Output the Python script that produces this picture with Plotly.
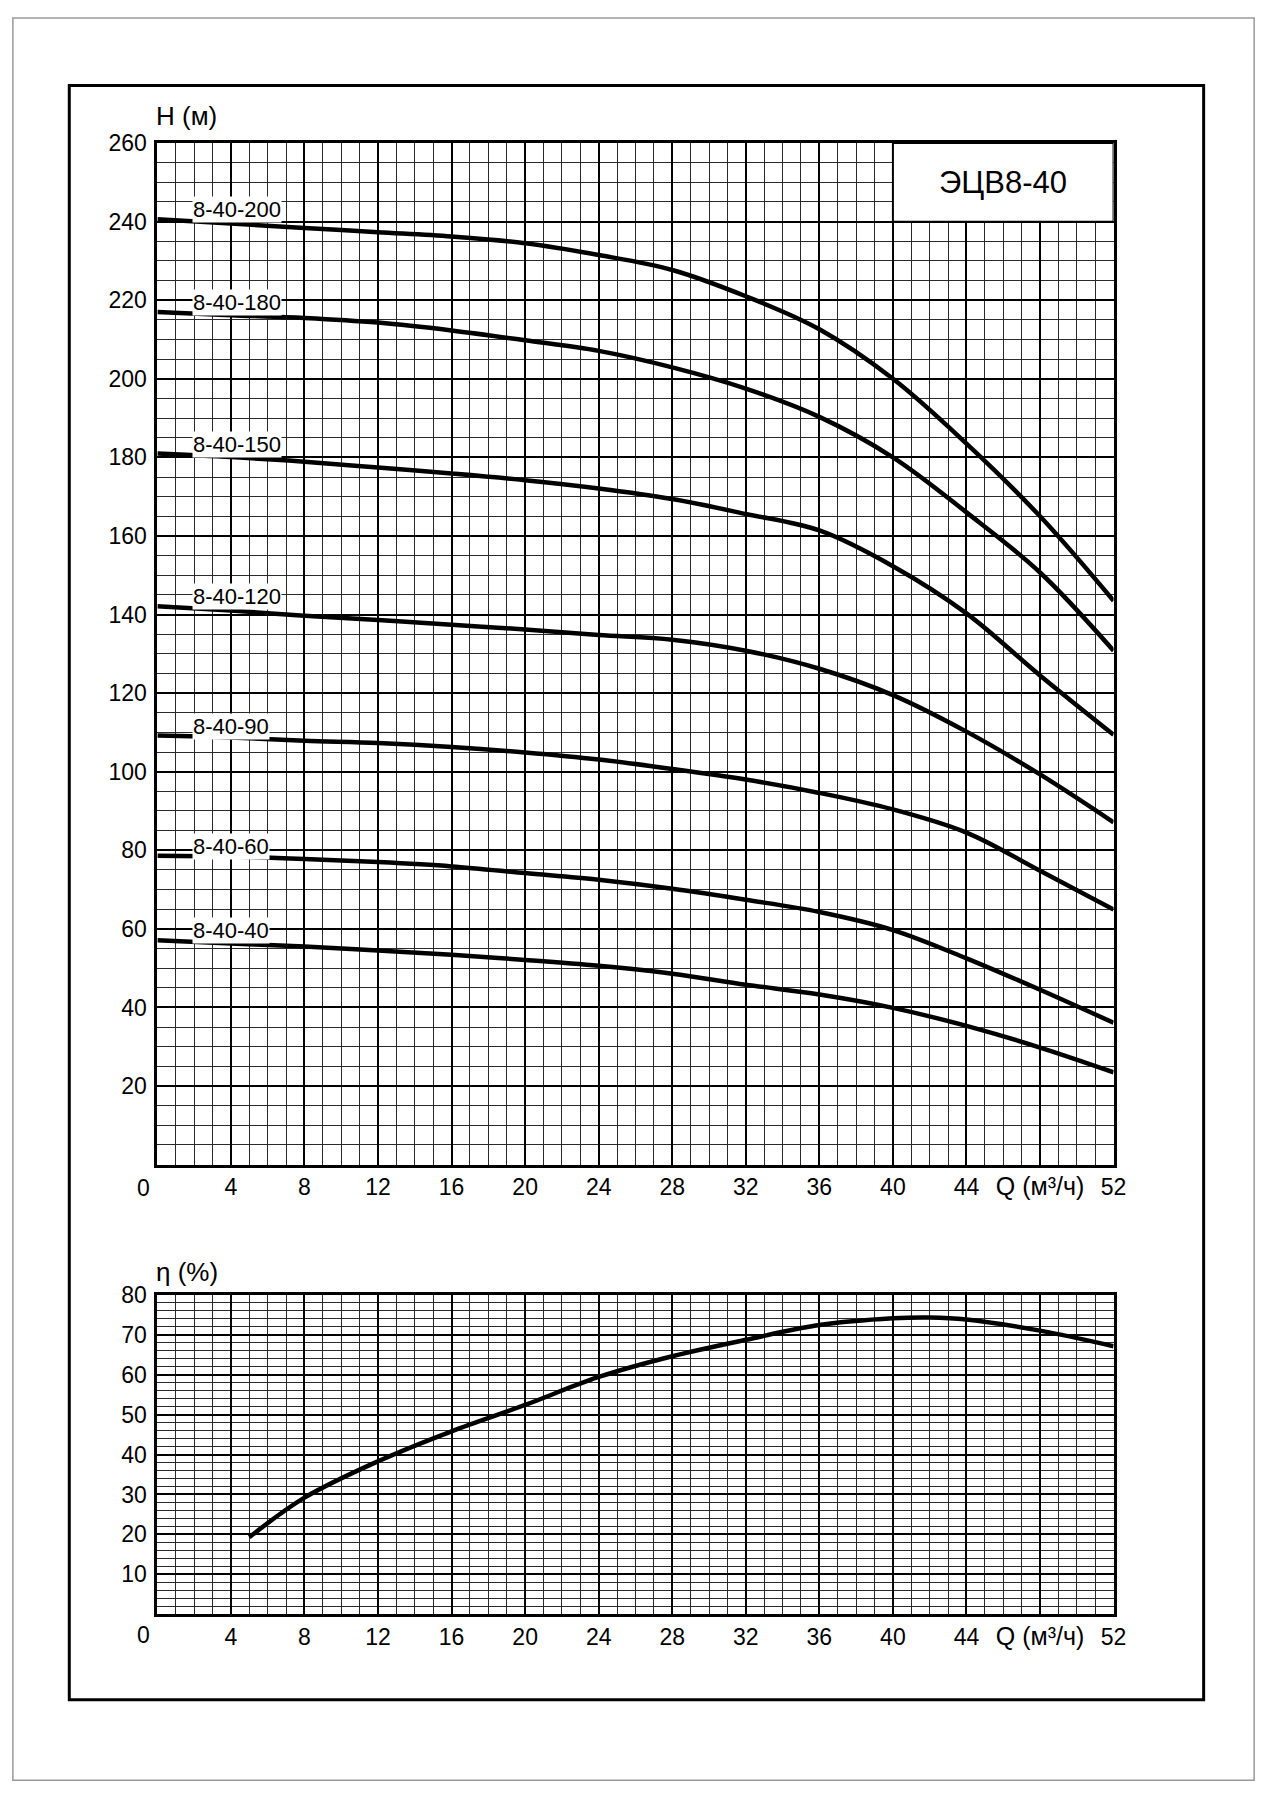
import plotly.graph_objects as go

# ── data ────────────────────────────────────────────────────────────────
Q = [0, 4, 8, 12, 16, 20, 24, 28, 32, 36, 40, 44, 48, 52]

H_CURVES = {
    "8-40-200": [240.6, 239.5, 238.4, 237.3, 236.2, 234.5, 231.5, 227.7, 221.0, 212.6, 200.0, 183.5, 165.0, 143.5],
    "8-40-180": [217.0, 216.2, 215.5, 214.3, 212.3, 209.8, 207.1, 202.9, 197.5, 190.3, 180.0, 166.0, 150.7, 130.8],
    "8-40-150": [181.0, 180.1, 178.9, 177.4, 175.9, 174.2, 172.1, 169.4, 165.6, 161.4, 152.3, 140.3, 124.5, 109.4],
    "8-40-120": [142.1, 141.0, 139.7, 138.6, 137.4, 136.2, 134.8, 133.6, 130.8, 126.2, 119.5, 110.2, 99.3, 87.1],
    "8-40-90":  [109.2, 108.7, 107.9, 107.3, 106.3, 104.9, 103.1, 100.7, 98.0, 94.6, 90.4, 84.5, 74.8, 64.9],
    "8-40-60":  [78.6, 78.4, 77.8, 77.0, 75.9, 74.2, 72.5, 70.2, 67.4, 64.3, 59.7, 52.5, 44.5, 36.1],
    "8-40-40":  [57.1, 56.3, 55.5, 54.5, 53.4, 52.1, 50.6, 48.6, 45.8, 43.3, 39.9, 35.3, 29.8, 23.5],
}

Q_ETA = [5, 8, 12, 16, 20, 24, 28, 32, 36, 40, 42, 44, 48, 52]
ETA = [19.3, 29.2, 38.3, 45.8, 52.4, 59.4, 64.6, 68.7, 72.4, 74.1, 74.3, 73.8, 71.0, 67.1]

X_TICKS = [4, 8, 12, 16, 20, 24, 28, 32, 36, 40, 44, 48, 52]
X_TICKTEXT = ["4", "8", "12", "16", "20", "24", "28", "32", "36", "40", "44",
              "<span style='font-size:25px'>Q (м³/ч)</span>", "52"]
H_TICKS = [20, 40, 60, 80, 100, 120, 140, 160, 180, 200, 220, 240, 260]
ETA_TICKS = [10, 20, 30, 40, 50, 60, 70, 80]

MODEL = "ЭЦВ8-40"

# ── page geometry ───────────────────────────────────────────────────────
# body margin is removed; the graph div starts ~13 px down the page,
# so the figure is made that much shorter and page pixels are offset.
PAGE_W, PAGE_H, TOP = 1280, 1811, 13
W, H = PAGE_W, PAGE_H - TOP
FONT = "Liberation Sans, Arial, sans-serif"


def px(x):
    return x / W


def py(y):
    return 1 - (y - TOP) / H


def _axis_common(minor_dtick):
    return dict(
        showline=True, linecolor="black", linewidth=3, mirror=True,
        showgrid=True, gridcolor="black", gridwidth=2,
        zeroline=False, ticks="",
        tickfont=dict(family=FONT, size=23, color="black"),
        minor=dict(tickmode="linear", tick0=0, dtick=minor_dtick,
                   showgrid=True, gridcolor="#2a2a2a", gridwidth=1),
    )


fig = go.Figure()

for name, hv in H_CURVES.items():
    fig.add_trace(go.Scatter(
        x=Q, y=hv, mode="lines", name=name,
        line=dict(color="black", width=4.5, shape="spline", smoothing=1.0),
        xaxis="x", yaxis="y", showlegend=False,
    ))

fig.add_trace(go.Scatter(
    x=Q_ETA, y=ETA, mode="lines", name="η",
    line=dict(color="black", width=4.5, shape="spline", smoothing=1.0),
    xaxis="x2", yaxis="y2", showlegend=False,
))

# curve labels just above the left end of each curve
for name, hv in H_CURVES.items():
    fig.add_annotation(
        x=1.9, y=hv[0] + 2.4, xref="x", yref="y", text=name,
        xanchor="left", yanchor="middle", showarrow=False,
        bgcolor="white", borderpad=0,
        font=dict(family=FONT, size=22, color="black"),
    )

# model box in the top-right corner of the head chart
fig.add_shape(type="rect", xref="x", yref="y", x0=40, x1=52, y0=240, y1=260,
              fillcolor="white", line=dict(color="black", width=2), layer="above")
fig.add_annotation(x=46, y=250, xref="x", yref="y", text=MODEL, showarrow=False,
                   font=dict(family=FONT, size=31, color="black"))

# axis titles and corner zeros
fig.add_annotation(x=px(156), y=py(117), xref="paper", yref="paper", text="H (м)",
                   xanchor="left", yanchor="middle", showarrow=False,
                   font=dict(family=FONT, size=26, color="black"))
fig.add_annotation(x=px(156), y=py(1281), xref="paper", yref="paper", text="η (%)",
                   xanchor="left", yanchor="middle", showarrow=False,
                   font=dict(family=FONT, size=26, color="black"))
for yz in (1197, 1647):
    fig.add_annotation(x=px(145), y=py(yz), xref="paper", yref="paper", text="0",
                       xanchor="center", yanchor="middle", showarrow=False,
                       font=dict(family=FONT, size=23, color="black"))

# page border and drawing frame
fig.add_shape(type="rect", xref="paper", yref="paper",
              x0=px(13), x1=px(1267), y0=py(1793), y1=py(18),
              line=dict(color="#9a9a9a", width=1.5))
fig.add_shape(type="rect", xref="paper", yref="paper",
              x0=px(70), x1=px(1216), y0=py(1712), y1=py(86),
              line=dict(color="black", width=3))

fig.update_layout(
    width=W, height=H,
    margin=dict(l=0, r=0, t=0, b=0),
    paper_bgcolor="white", plot_bgcolor="white",
    xaxis=dict(domain=[px(159), px(1125)], range=[0, 52], anchor="y",
               tickmode="array", tickvals=X_TICKS, ticktext=X_TICKTEXT,
               ticklabelstandoff=0, **_axis_common(1)),
    yaxis=dict(domain=[py(1173), py(144)], range=[0, 260], anchor="x",
               tickmode="array", tickvals=H_TICKS,
               ticklabelstandoff=3, **_axis_common(5)),
    xaxis2=dict(domain=[px(159), px(1125)], range=[0, 52], anchor="y2",
                tickmode="array", tickvals=X_TICKS, ticktext=X_TICKTEXT,
                ticklabelstandoff=0, **_axis_common(1)),
    yaxis2=dict(domain=[py(1626), py(1304)], range=[0, 80], anchor="x2",
                tickmode="array", tickvals=ETA_TICKS,
                ticklabelstandoff=3, **_axis_common(2)),
)

fig.write_html("out.html", config={"displayModeBar": False},
               post_script="document.body.style.margin='0';")
